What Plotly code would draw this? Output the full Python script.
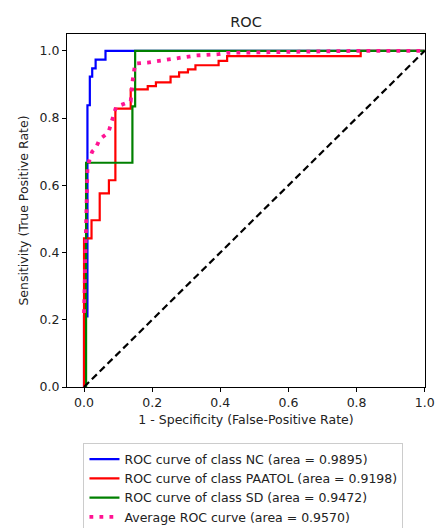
import plotly.graph_objects as go

# ---- data ----
nc_fpr = [0.0, 0.0, 0.01, 0.01, 0.017, 0.017, 0.024, 0.024, 0.034, 0.034, 0.063, 0.063, 1.0]
nc_tpr = [0.0, 0.21, 0.21, 0.838, 0.838, 0.923, 0.923, 0.948, 0.948, 0.974, 0.974, 1.0, 1.0]

paatol_fpr = [0.0, 0.0, 0.022, 0.022, 0.046, 0.046, 0.073, 0.073, 0.092, 0.092,
              0.137, 0.137, 0.187, 0.187, 0.211, 0.211, 0.254, 0.254, 0.279, 0.279,
              0.305, 0.305, 0.327, 0.327, 0.395, 0.395, 0.42, 0.42, 0.812, 0.812, 1.0]
paatol_tpr = [0.0, 0.442, 0.442, 0.496, 0.496, 0.576, 0.576, 0.615, 0.615, 0.828,
              0.828, 0.885, 0.885, 0.895, 0.895, 0.906, 0.906, 0.923, 0.923, 0.936,
              0.936, 0.945, 0.945, 0.957, 0.957, 0.970, 0.970, 0.984, 0.984, 1.0, 1.0]

sd_fpr = [0.0, 0.006, 0.006, 0.142, 0.142, 0.15, 0.15, 1.0]
sd_tpr = [0.0, 0.0, 0.667, 0.667, 0.835, 0.835, 1.0, 1.0]

avg_fpr = [0.0, 0.005, 0.01, 0.017, 0.024, 0.034, 0.046, 0.063, 0.073, 0.094,
           0.137, 0.142, 0.15, 0.187, 0.211, 0.254, 0.279, 0.305, 0.327, 0.395,
           0.42, 0.812, 1.0]
avg_tpr = [0.22, 0.44, 0.65, 0.68, 0.70, 0.71, 0.737, 0.75, 0.762, 0.833,
           0.85, 0.906, 0.962, 0.965, 0.969, 0.974, 0.979, 0.982, 0.986, 0.99,
           0.994, 1.0, 1.0]

diag = [0.0, 1.0]

names = ["ROC curve of class NC (area = 0.9895)",
         "ROC curve of class PAATOL (area = 0.9198)",
         "ROC curve of class SD (area = 0.9472)",
         "Average ROC curve (area = 0.9570)"]

tick_vals = [0.0, 0.2, 0.4, 0.6, 0.8, 1.0]
tick_text = ["0.0", "0.2", "0.4", "0.6", "0.8", "1.0"]

FONT = "DejaVu Sans"

fig = go.Figure()
fig.add_trace(go.Scatter(x=nc_fpr, y=nc_tpr, mode="lines", name=names[0],
                         line=dict(color="blue", width=2.2)))
fig.add_trace(go.Scatter(x=paatol_fpr, y=paatol_tpr, mode="lines", name=names[1],
                         line=dict(color="red", width=2.2)))
fig.add_trace(go.Scatter(x=sd_fpr, y=sd_tpr, mode="lines", name=names[2],
                         line=dict(color="green", width=2.2)))
fig.add_trace(go.Scatter(x=diag, y=diag, mode="lines", showlegend=False,
                         line=dict(color="black", width=2.2, dash="7px,4px")))
fig.add_trace(go.Scatter(x=avg_fpr, y=avg_tpr, mode="lines", name=names[3],
                         line=dict(color="deeppink", width=3.8, dash="3.8px,6.2px")))

axis_common = dict(showline=True, mirror=True, linecolor="black", linewidth=1,
                   ticks="outside", ticklen=4, tickcolor="black", showgrid=False,
                   zeroline=False, tickvals=tick_vals, ticktext=tick_text,
                   ticklabeloverflow="allow",
                   tickfont=dict(family=FONT, size=12.5, color="#222"))

fig.update_layout(
    width=436, height=528,
    margin=dict(l=67, r=11, t=34, b=141, autoexpand=False),
    paper_bgcolor="white", plot_bgcolor="white",
    font=dict(family=FONT, size=12.5, color="#222"),
    title=dict(text="ROC", x=0.5, xref="paper", xanchor="center",
               y=1 - 21.7 / 528, yref="container", yanchor="middle",
               font=dict(family=FONT, size=14.5, color="#222")),
    xaxis=dict(range=[-0.05, 1.0008],
               title=dict(text="1 - Specificity (False-Positive Rate)", standoff=6,
                          font=dict(family=FONT, size=12.5, color="#222")),
               **axis_common),
    yaxis=dict(range=[0.0, 1.05],
               title=dict(text="Sensitivity (True Positive Rate)", standoff=8,
                          font=dict(family=FONT, size=12.5, color="#222")),
               **axis_common),
    legend=dict(x=0.046, y=-0.16, xanchor="left", yanchor="top",
                bordercolor="#cccccc", borderwidth=1, bgcolor="white",
                font=dict(family=FONT, size=12.5, color="#222"),
                tracegroupgap=0),
    showlegend=True,
)

fig.write_html("out.html")
